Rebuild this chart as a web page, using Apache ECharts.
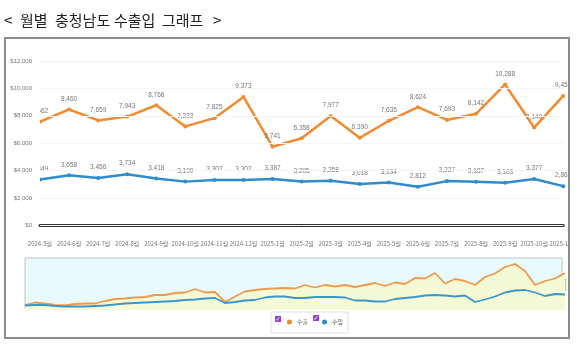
<!DOCTYPE html>
<html>
<head>
<meta charset="utf-8">
<script src="https://cdn.jsdelivr.net/npm/echarts@6/dist/echarts.min.js"></script>
<style>
  html, body { margin: 0; padding: 0; background: #fff; }
  #chart { width: 580px; height: 351px; }
</style>
</head>
<body>
<div id="chart"></div>
<script>
// 월별 카테고리
const months = [
  '2024-5월', '2024-6월', '2024-7월', '2024-8월', '2024-9월', '2024-10월',
  '2024-11월', '2024-12월', '2025-1월', '2025-2월', '2025-3월', '2025-4월',
  '2025-5월', '2025-6월', '2025-7월', '2025-8월', '2025-9월', '2025-10월', '2025-11월'
];
// 수출 / 수입 (백만$)
const exportVals = [7562, 8460, 7659, 7943, 8766, 7223, 7825, 9373, 5741, 6358,
  7977, 6390, 7635, 8624, 7693, 8142, 10288, 7140, 9450];
const importVals = [3349, 3658, 3456, 3734, 3418, 3190, 3302, 3302, 3387, 3205,
  3258, 3018, 3134, 2812, 3227, 3187, 3103, 3377, 2860];
const yTicks = [0, 2000, 4000, 6000, 8000, 10000, 12000];

// 하단 미리보기(슬라이더) 추이
const miniExport = [1250, 1875, 1625, 1250, 1125, 1500, 1625, 1625, 2250, 2750,
  2875, 3125, 3250, 3750, 3750, 4250, 4375, 5250, 4375, 4500,
  2000, 3375, 4625, 5000, 5250, 5375, 5500, 5375, 6250, 5625,
  6250, 5875, 6250, 5750, 6250, 6750, 6000, 6875, 6500, 8000,
  7875, 9250, 6625, 7750, 7250, 6250, 8250, 9125, 10750, 11500,
  9750, 6250, 7250, 7875, 9250];
const miniImport = [1125, 1250, 1250, 1000, 875, 875, 875, 1000, 1125, 1375,
  1625, 1750, 1875, 2000, 2125, 2250, 2500, 2625, 2875, 3000,
  1750, 2000, 2375, 2500, 3125, 3375, 3375, 3000, 3000, 3250,
  3250, 3250, 3125, 2375, 2375, 2125, 2125, 2750, 3000, 3250,
  3625, 3750, 3625, 3375, 3625, 2000, 2625, 3375, 4375, 4875,
  5000, 4375, 3500, 4000, 3875];

// 제목 (단어 간격이 넓어서 단어별로 배치)
const titleWords = ['<', '월별', '충청남도', '수출입', '그래프', '>'];
const titleX = [4, 20, 55, 114, 162, 213];

const orange = '#f28b30';
const blue = '#2f8ccc';
const labelFont = 'Liberation Sans';

const chart = echarts.init(document.getElementById('chart'));

// 체크박스 아이콘
function checkbox(x, y) {
  return {
    type: 'group',
    x: x,
    y: y,
    z: 10,
    children: [
      { type: 'rect', shape: { x: 0, y: 0, width: 6, height: 6, r: 0.5 }, style: { fill: '#9b3fcf' } },
      { type: 'text', x: 3, y: 3, style: { text: '✓', fill: '#fff', fontSize: 6, align: 'center', verticalAlign: 'middle', fontFamily: 'DejaVu Sans' } },
    ],
  };
}

const titleGraphics = titleWords.map((w, i) => ({
  type: 'text',
  x: titleX[i],
  y: 20,
  z: 10,
  style: {
    text: w,
    fill: '#222',
    fontSize: 15,
    fontFamily: 'Noto Sans CJK KR',
    verticalAlign: 'middle',
  },
}));

chart.setOption({
  animation: false,
  backgroundColor: '#fff',
  legend: {
    data: ['수출', '수입'],
    left: 287,
    top: 319,
    padding: 0,
    itemGap: 14,
    itemWidth: 5,
    itemHeight: 5,
    icon: 'circle',
    textStyle: { fontSize: 6, color: '#555', fontFamily: 'Noto Sans CJK KR' },
  },
  grid: [
    { left: 40, right: 13, top: 61, bottom: 125.7 },
    { left: 25, width: 540, top: 258, height: 52 },
  ],
  xAxis: [
    {
      type: 'category',
      boundaryGap: false,
      data: months,
      axisLine: { lineStyle: { color: '#333', width: 3 } },
      axisTick: { show: false },
      axisLabel: { interval: 0, fontSize: 6, color: '#777', margin: 15, fontFamily: 'Noto Sans CJK KR' },
    },
    {
      type: 'category',
      gridIndex: 1,
      boundaryGap: false,
      data: miniExport.map((_, i) => i),
      show: false,
    },
  ],
  yAxis: [
    {
      type: 'value',
      min: yTicks[0],
      max: yTicks[yTicks.length - 1],
      interval: 2000,
      z: 60,
      axisLine: { show: false },
      axisTick: { show: false },
      splitLine: { lineStyle: { color: '#f6f6f6' } },
      axisLabel: {
        fontSize: 6,
        color: '#777',
        margin: 8,
        fontFamily: labelFont,
        formatter: (v) => '$' + v.toLocaleString('en-US'),
      },
    },
    { type: 'value', gridIndex: 1, min: 0, max: 13000, show: false },
  ],
  series: [
    {
      name: '수출',
      type: 'line',
      data: exportVals,
      color: orange,
      symbol: 'circle',
      symbolSize: 4,
      lineStyle: { width: 2.5 },
      label: {
        show: true,
        position: 'top',
        fontSize: 6.5,
        color: '#777',
        fontFamily: labelFont,
        formatter: (p) => p.value.toLocaleString('en-US'),
      },
    },
    {
      name: '수입',
      type: 'line',
      data: importVals,
      color: blue,
      symbol: 'circle',
      symbolSize: 4,
      lineStyle: { width: 2.5 },
      label: {
        show: true,
        position: 'top',
        fontSize: 6.5,
        color: '#777',
        fontFamily: labelFont,
        formatter: (p) => p.value.toLocaleString('en-US'),
      },
    },
    {
      name: '수출',
      type: 'line',
      xAxisIndex: 1,
      yAxisIndex: 1,
      data: miniExport,
      color: '#f09a4c',
      symbol: 'none',
      lineStyle: { width: 1.8 },
      areaStyle: { color: '#f4f9d6', opacity: 1 },
      silent: true,
    },
    {
      name: '수입',
      type: 'line',
      xAxisIndex: 1,
      yAxisIndex: 1,
      data: miniImport,
      color: '#3a97cb',
      symbol: 'none',
      lineStyle: { width: 1.8 },
      silent: true,
    },
  ],
  graphic: [
    ...titleGraphics,
    // 슬라이더 배경
    { type: 'rect', z: 0, shape: { x: 25, y: 258, width: 537, height: 51 }, style: { fill: '#e8fafd', stroke: '#c4c4c4', lineWidth: 1 } },
    { type: 'rect', z: 1, shape: { x: 563, y: 279, width: 3, height: 12 }, style: { fill: '#d8d8d8', stroke: '#aaa', lineWidth: 0.5 } },
    // 왼쪽 클리핑 영역
    { type: 'rect', z: 50, shape: { x: 6, y: 42, width: 34, height: 180 }, style: { fill: '#fff' } },
    // 범례 상자
    { type: 'rect', z: 0, shape: { x: 271, y: 312, width: 77, height: 21 }, style: { fill: '#fff', stroke: '#e2e2e2', lineWidth: 1 } },
    checkbox(275, 316),
    checkbox(313, 315),
    // 오른쪽 잘린 부분
    { type: 'rect', z: 100, shape: { x: 570, y: 0, width: 10, height: 351 }, style: { fill: '#fff' } },
    // 외곽 테두리
    { type: 'rect', z: 101, shape: { x: 5, y: 38, width: 564, height: 300 }, style: { fill: 'none', stroke: '#8c8c8c', lineWidth: 2 } },
  ],
});
</script>
</body>
</html>
